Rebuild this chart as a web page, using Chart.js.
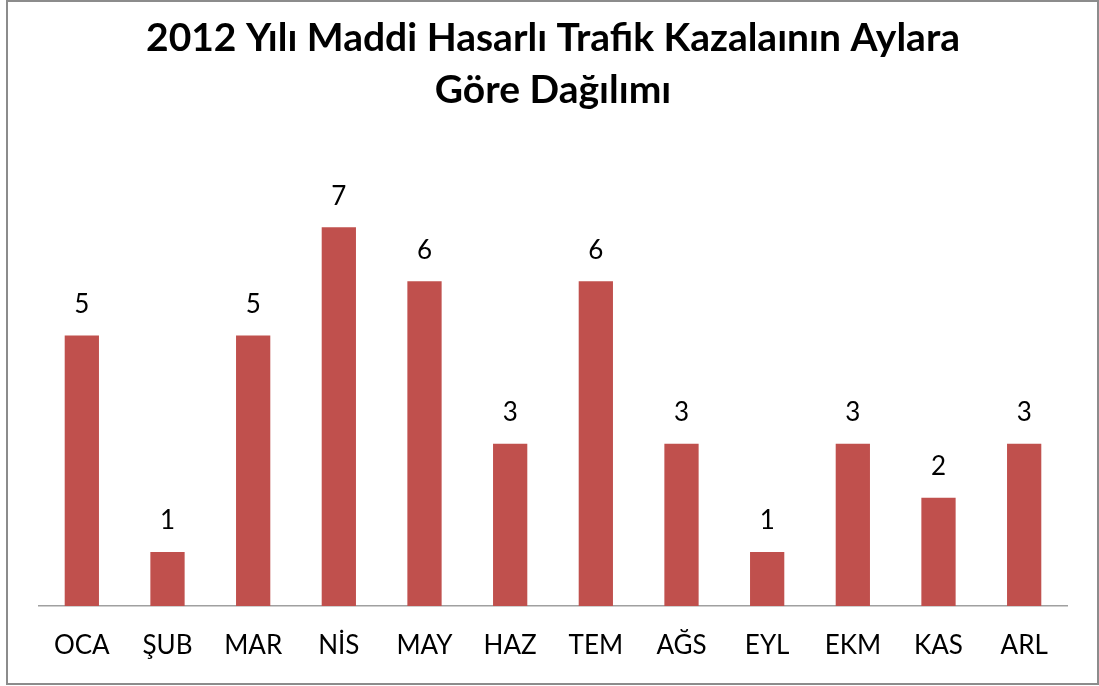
<!DOCTYPE html>
<html>
<head>
<meta charset="utf-8">
<script src="https://cdn.jsdelivr.net/npm/chart.js@4/dist/chart.umd.min.js"></script>
<style>
    html, body { margin: 0; padding: 0; background: #fff; }
    #wrap { position: relative; width: 1099px; height: 686px; }
    #frame {
        position: absolute; left: 6px; top: 0; width: 1089px; height: 681px;
        border: 2px solid #8c8c8c; pointer-events: none;
    }
</style>
</head>
<body>
<div id="wrap">
    <canvas id="kazaChart" width="1099" height="686"></canvas>
    <div id="frame"></div>
</div>
<script>
const aylar = ["OCA", "ŞUB", "MAR", "NİS", "MAY", "HAZ", "TEM", "AĞS", "EYL", "EKM", "KAS", "ARL"];
const kazaSayilari = [5, 1, 5, 7, 6, 3, 6, 3, 1, 3, 2, 3];
const baslik = ["2012 Yılı Maddi Hasarlı Trafik Kazalaının Aylara", "Göre Dağılımı"];

const fontAile = "Lato, 'Open Sans', sans-serif";

// writes each bar's value just above it
const degerEtiketleri = {
    id: "degerEtiketleri",
    afterDatasetsDraw(chart) {
        const { ctx } = chart;
        const meta = chart.getDatasetMeta(0);
        ctx.save();
        ctx.font = `26px ${fontAile}`;
        ctx.fillStyle = "#000";
        ctx.textAlign = "center";
        ctx.textBaseline = "middle";
        meta.data.forEach((bar, i) => {
            ctx.fillText(String(kazaSayilari[i]), bar.x, bar.y - 31);
        });
        ctx.restore();
    },
};

const ctx = document.getElementById("kazaChart");

new Chart(ctx, {
    type: "bar",
    data: {
        labels: aylar,
        datasets: [
            {
                label: "Kaza",
                data: kazaSayilari,
                backgroundColor: "#C0504D",
                categoryPercentage: 1,
                barPercentage: 0.4,
            },
        ],
    },
    options: {
        responsive: false,
        animation: false,
        layout: { padding: { left: 39, right: 32, top: 0, bottom: 0 } },
        scales: {
            x: {
                grid: { display: false, drawTicks: false },
                border: { display: true, color: "#a0a0a0", width: 1.5 },
                ticks: {
                    color: "#000",
                    padding: 24.4,
                    font: { family: fontAile, size: 26 },
                },
            },
            y: {
                display: false,
                min: 0,
                max: 8,
            },
        },
        plugins: {
            legend: { display: false },
            tooltip: { enabled: false },
            title: {
                display: true,
                text: baslik,
                color: "#000",
                font: { family: fontAile, size: 39, weight: "bold", lineHeight: 52 / 39 },
                padding: { top: 12, bottom: 57 },
            },
        },
    },
    plugins: [degerEtiketleri],
});
</script>
</body>
</html>
